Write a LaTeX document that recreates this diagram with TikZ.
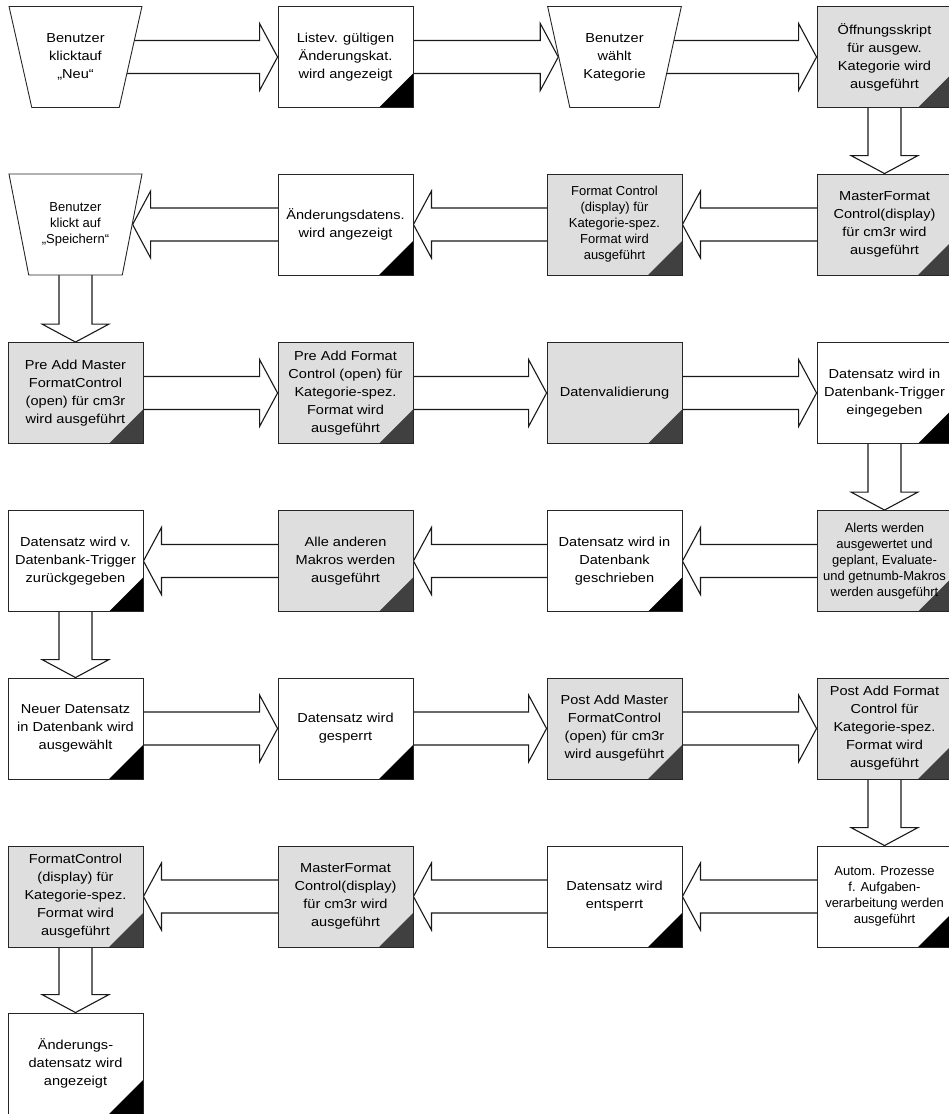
\documentclass[tikz,border=0pt]{standalone}
\usepackage{fontspec}
\setmainfont{Liberation Sans}
\newfontfamily\widesans{Liberation Sans}[FakeStretch=1.12]
\usetikzlibrary{shapes.geometric,calc,backgrounds}
\begin{document}
\begin{tikzpicture}[x=1pt, y=1pt, line width=0.9pt,
                    every node/.style={align=center, inner sep=0pt, font=\widesans\fontsize{13}{18}\selectfont},
                    small/.style={font=\fontsize{13}{16}\selectfont},
                    stepbox/.style={draw=black!85, fill=white, minimum width=135, minimum height=101,
                        path picture={\fill[black] (path picture bounding box.south east) -- ++(-34,0) -- ++(34,34) -- cycle;}},
                    shadebox/.style={stepbox, fill=black!13,
                        path picture={\fill[black!75] (path picture bounding box.south east) -- ++(-34,0) -- ++(34,34) -- cycle;}},
                    usrbox/.style={trapezium, draw=black!85, fill=white, shape border rotate=180,
                        trapezium stretches=true, trapezium left angle=72, trapezium right angle=72,
                        minimum width=134, minimum height=101},
                    flow/.style={draw=black!90, line width=1.1pt, fill=white, to path={
                        ($(\tikztostart)!16.5pt!90:(\tikztotarget)$)
                        -- ($(\tikztotarget)!18pt!(\tikztostart)!16.5pt!-90:(\tikztostart)$)
                        -- ($(\tikztotarget)!18pt!(\tikztostart)!33.5pt!-90:(\tikztostart)$)
                        -- (\tikztotarget)
                        -- ($(\tikztotarget)!18pt!(\tikztostart)!33.5pt!90:(\tikztostart)$)
                        -- ($(\tikztotarget)!18pt!(\tikztostart)!16.5pt!90:(\tikztostart)$)
                        -- ($(\tikztostart)!16.5pt!-90:(\tikztotarget)$) -- cycle}}]
                    \useasboundingbox (0,0) rectangle (948,-1114);
                    % row 1
                    \node[usrbox] (usrneu) at (75.5,-57) {Benutzer\\klicktauf\\„Neu“};
                    \node[stepbox] (liste) at (345.5,-57) {Listev. gültigen\\Änderungskat.\\wird angezeigt};
                    \node[usrbox] (usrkat) at (614.5,-57) {Benutzer\\wählt\\Kategorie};
                    \node[shadebox] (oeffnen) at (884.5,-57) {Öffnungsskript\\für ausgew.\\Kategorie wird\\ausgeführt};
                    % row 2
                    \node[shadebox] (mfcdisp) at (884.5,-224.5) {MasterFormat\\Control(display)\\für cm3r wird\\ausgeführt};
                    \node[shadebox, small] (fcdisp) at (614.5,-224.5) {Format Control\\(display) für\\Kategorie-spez.\\Format wird\\ausgeführt};
                    \node[stepbox] (aenddat) at (345.5,-224.5) {Änderungsdatens.\\wird angezeigt};
                    \node[usrbox, small] (usrspeich) at (75.5,-224.5) {Benutzer\\klickt auf\\„Speichern“};
                    % row 3
                    \node[shadebox] (premfc) at (75.5,-393) {Pre Add Master\\FormatControl\\(open) für cm3r\\wird ausgeführt};
                    \node[shadebox] (prefc) at (345.5,-393) {Pre Add Format\\Control (open) für\\Kategorie-spez.\\Format wird\\ausgeführt};
                    \node[shadebox] (valid) at (614.5,-393) {Datenvalidierung};
                    \node[stepbox] (dbein) at (884.5,-393) {Datensatz wird in\\Datenbank-Trigger\\eingegeben};
                    % row 4
                    \node[shadebox, small] (alerts) at (884.5,-561) {Alerts werden\\ausgewertet und\\geplant, Evaluate-\\und getnumb-Makros\\werden ausgeführt};
                    \node[stepbox] (dbschreib) at (614.5,-561) {Datensatz wird in\\Datenbank\\geschrieben};
                    \node[shadebox] (makros) at (345.5,-561) {Alle anderen\\Makros werden\\ausgeführt};
                    \node[stepbox] (dbzurueck) at (75.5,-561) {Datensatz wird v.\\Datenbank-Trigger\\zurückgegeben};
                    % row 5
                    \node[stepbox] (neuds) at (75.5,-728.5) {Neuer Datensatz\\in Datenbank wird\\ausgewählt};
                    \node[stepbox] (sperr) at (345.5,-728.5) {Datensatz wird\\gesperrt};
                    \node[shadebox] (postmfc) at (614.5,-728.5) {Post Add Master\\FormatControl\\(open) für cm3r\\wird ausgeführt};
                    \node[shadebox] (postfc) at (884.5,-728.5) {Post Add Format\\Control für\\Kategorie-spez.\\Format wird\\ausgeführt};
                    % row 6
                    \node[stepbox, small] (autom) at (884.5,-896.5) {Autom. Prozesse\\f. Aufgaben-\\verarbeitung werden\\ausgeführt};
                    \node[stepbox] (entsperr) at (614.5,-896.5) {Datensatz wird\\entsperrt};
                    \node[shadebox] (mfcdisp2) at (345.5,-896.5) {MasterFormat\\Control(display)\\für cm3r wird\\ausgeführt};
                    \node[shadebox] (fcdisp2) at (75.5,-896.5) {FormatControl\\(display) für\\Kategorie-spez.\\Format wird\\ausgeführt};
                    % row 7
                    \node[stepbox] (aendanz) at (75.5,-1063.5) {Änderungs-\\datensatz wird\\angezeigt};
                    \begin{pgfonlayer}{background}
                        \draw[flow] (usrneu) to (liste.west);
                        \draw[flow] (liste) to (usrkat.180);
                        \draw[flow] (usrkat) to (oeffnen.west);
                        \draw[flow] (oeffnen) to (mfcdisp.north);
                        \draw[flow] (mfcdisp) to (fcdisp.east);
                        \draw[flow] (fcdisp) to (aenddat.east);
                        \draw[flow] (aenddat) to (usrspeich.0);
                        \draw[flow] (usrspeich) to (premfc.north);
                        \draw[flow] (premfc) to (prefc.west);
                        \draw[flow] (prefc) to (valid.west);
                        \draw[flow] (valid) to (dbein.west);
                        \draw[flow] (dbein) to (alerts.north);
                        \draw[flow] (alerts) to (dbschreib.east);
                        \draw[flow] (dbschreib) to (makros.east);
                        \draw[flow] (makros) to (dbzurueck.east);
                        \draw[flow] (dbzurueck) to (neuds.north);
                        \draw[flow] (neuds) to (sperr.west);
                        \draw[flow] (sperr) to (postmfc.west);
                        \draw[flow] (postmfc) to (postfc.west);
                        \draw[flow] (postfc) to (autom.north);
                        \draw[flow] (autom) to (entsperr.east);
                        \draw[flow] (entsperr) to (mfcdisp2.east);
                        \draw[flow] (mfcdisp2) to (fcdisp2.east);
                        \draw[flow] (fcdisp2) to (aendanz.north);
                    \end{pgfonlayer}
                \end{tikzpicture}
\end{document}
